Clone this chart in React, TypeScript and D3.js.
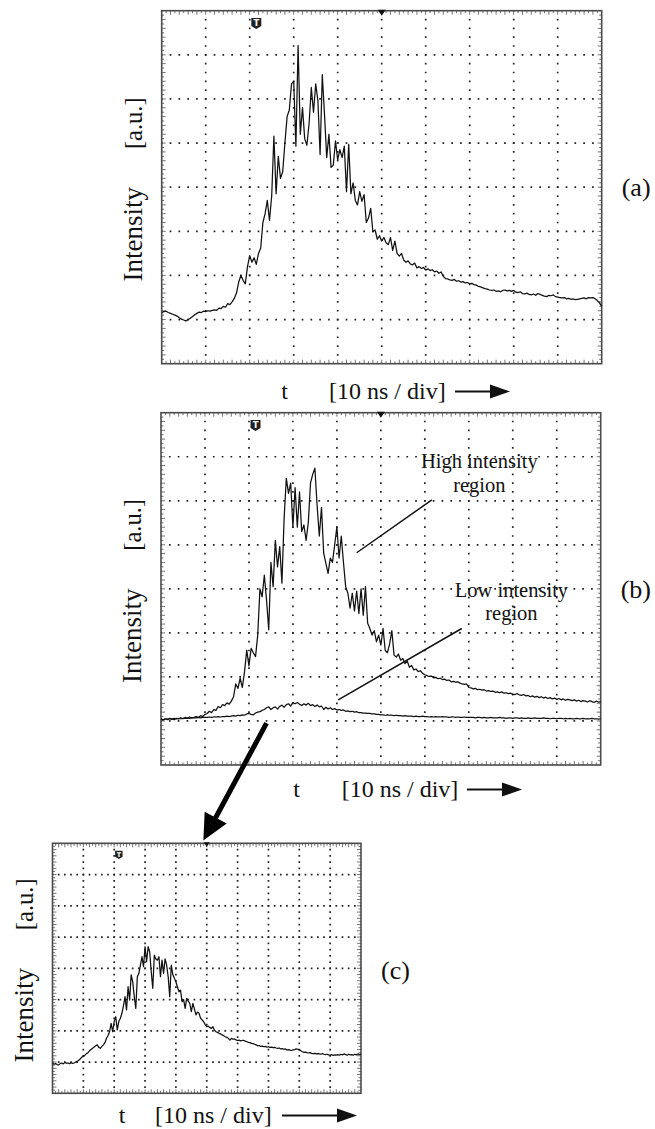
import React from 'react';
import * as d3 from 'd3';

// ---------------- data (divisions; x step = 0.05 div, y in div from bottom) ----------------
const STEP = 0.05;
const X_DIVS = 10;
const Y_DIVS = 8;

const traceA = [
  1.16,1.18,1.19,1.16,1.14,1.12,1.10,1.08,1.04,1.01,0.99,0.97,1.00,1.03,1.07,1.11,1.14,1.17,1.16,1.19,
  1.18,1.20,1.19,1.21,1.22,1.21,1.26,1.25,1.30,1.28,1.36,1.34,1.40,1.48,1.60,1.85,2.00,1.89,1.81,2.20,
  2.45,2.30,2.40,2.25,2.50,2.62,3.20,3.40,3.70,3.25,3.80,5.16,3.85,4.70,4.20,4.35,5.00,5.60,5.75,6.34,
  6.40,4.93,7.21,5.20,5.81,5.10,4.95,5.45,6.26,5.70,6.34,5.96,4.74,6.55,5.65,4.67,5.20,4.45,4.50,5.05,
  4.62,4.85,4.67,4.93,3.90,4.97,3.85,4.10,3.70,3.60,3.90,3.68,3.83,3.20,3.30,3.52,2.99,3.03,2.82,2.90,
  2.78,2.86,2.74,2.70,2.86,2.57,2.78,2.50,2.44,2.50,2.35,2.30,2.33,2.26,2.24,2.28,2.17,2.20,2.16,2.18,
  2.12,2.15,2.11,2.13,2.08,2.10,2.05,2.08,1.98,1.93,1.92,1.90,1.89,1.91,1.87,1.88,1.85,1.86,1.83,1.84,
  1.81,1.82,1.79,1.78,1.75,1.74,1.72,1.70,1.69,1.67,1.66,1.67,1.64,1.65,1.63,1.66,1.67,1.65,1.66,1.64,
  1.66,1.62,1.61,1.63,1.59,1.58,1.60,1.57,1.56,1.58,1.55,1.59,1.57,1.55,1.53,1.52,1.55,1.54,1.56,1.52,
  1.51,1.50,1.49,1.50,1.47,1.48,1.46,1.47,1.45,1.46,1.47,1.48,1.49,1.47,1.50,1.49,1.50,1.47,1.43,1.38,
  1.30,
];

const traceBHigh = [
  1.04,1.02,1.05,1.03,1.06,1.04,1.03,1.06,1.05,1.07,1.05,1.08,1.06,1.09,1.07,1.08,1.10,1.08,1.12,1.10,
  1.15,1.17,1.22,1.19,1.26,1.24,1.33,1.30,1.37,1.35,1.41,1.38,1.45,1.55,1.84,1.74,1.97,1.76,2.12,2.61,
  2.25,2.65,2.55,2.46,2.95,4.00,3.82,4.31,3.75,3.07,4.60,4.05,5.10,4.50,4.96,4.13,5.60,6.51,6.17,6.40,
  5.40,6.30,5.40,6.20,5.30,5.45,5.10,5.50,6.40,6.60,6.74,5.90,5.20,5.85,4.81,4.58,4.35,4.70,4.60,5.00,
  5.41,4.70,5.20,4.60,4.05,3.90,3.56,3.90,3.50,3.95,3.44,4.00,3.40,4.05,3.22,3.10,2.95,3.05,2.80,2.95,
  2.72,3.10,2.60,2.55,2.75,3.05,2.50,2.45,2.52,2.38,2.42,2.30,2.36,2.22,2.26,2.16,2.18,2.12,2.14,2.08,
  2.05,2.03,2.01,2.02,1.98,1.99,1.96,1.97,1.94,1.95,1.92,1.93,1.89,1.90,1.88,1.89,1.86,1.84,1.83,1.84,
  1.76,1.75,1.73,1.74,1.71,1.72,1.70,1.71,1.68,1.69,1.67,1.68,1.65,1.66,1.64,1.66,1.63,1.64,1.62,1.63,
  1.61,1.60,1.62,1.59,1.58,1.60,1.57,1.58,1.55,1.57,1.54,1.56,1.53,1.55,1.52,1.54,1.51,1.53,1.50,1.52,
  1.49,1.51,1.48,1.50,1.47,1.49,1.48,1.46,1.48,1.45,1.47,1.44,1.46,1.45,1.43,1.46,1.44,1.42,1.45,1.43,
  1.44,
];

const traceBLow = [
  1.04,1.03,1.05,1.04,1.05,1.04,1.06,1.05,1.06,1.05,1.06,1.06,1.07,1.06,1.07,1.07,1.07,1.08,1.07,1.08,
  1.08,1.08,1.09,1.08,1.09,1.09,1.10,1.09,1.10,1.10,1.11,1.10,1.11,1.12,1.11,1.13,1.12,1.14,1.13,1.16,
  1.17,1.15,1.14,1.18,1.20,1.21,1.24,1.26,1.30,1.32,1.26,1.30,1.32,1.27,1.33,1.36,1.31,1.37,1.39,1.34,
  1.42,1.39,1.42,1.38,1.35,1.39,1.36,1.40,1.35,1.37,1.33,1.36,1.32,1.34,1.26,1.31,1.27,1.30,1.26,1.28,
  1.25,1.26,1.24,1.25,1.22,1.23,1.21,1.22,1.20,1.21,1.19,1.19,1.18,1.18,1.17,1.17,1.16,1.16,1.15,1.15,
  1.14,1.14,1.13,1.14,1.13,1.13,1.12,1.13,1.12,1.12,1.11,1.12,1.11,1.11,1.11,1.10,1.11,1.10,1.10,1.11,
  1.10,1.10,1.09,1.10,1.09,1.10,1.09,1.09,1.10,1.09,1.09,1.08,1.09,1.09,1.08,1.09,1.08,1.08,1.09,1.08,
  1.08,1.08,1.08,1.07,1.08,1.08,1.07,1.08,1.07,1.07,1.08,1.07,1.07,1.07,1.08,1.07,1.07,1.06,1.07,1.07,
  1.06,1.07,1.07,1.06,1.07,1.06,1.06,1.07,1.06,1.06,1.07,1.06,1.06,1.06,1.07,1.06,1.06,1.05,1.06,1.06,
  1.05,1.06,1.06,1.05,1.06,1.05,1.06,1.05,1.05,1.06,1.05,1.05,1.06,1.05,1.05,1.05,1.06,1.05,1.05,1.04,
  1.05,
];

const traceC = [
  0.96,0.93,0.95,0.92,0.91,0.95,0.97,0.94,0.99,0.96,0.97,0.95,0.98,0.96,0.97,1.00,1.02,1.06,1.10,1.16,
  1.18,1.22,1.27,1.30,1.36,1.40,1.44,1.48,1.52,1.55,1.47,1.44,1.50,1.55,1.62,1.76,1.85,1.97,2.24,1.97,
  2.30,2.45,2.03,2.30,2.40,2.56,2.80,3.09,2.67,3.41,2.99,3.79,3.57,3.10,2.72,3.73,3.84,4.10,4.37,4.05,
  4.69,4.21,4.69,4.53,3.90,3.36,4.42,4.30,4.26,4.37,3.73,4.26,3.84,4.30,4.10,3.73,3.09,4.10,3.80,3.68,
  3.57,3.40,3.25,3.30,2.93,3.00,2.72,3.04,2.95,2.88,2.61,2.88,2.70,2.51,2.60,2.56,2.40,2.35,2.29,2.20,
  2.13,2.15,2.10,2.08,2.13,2.02,1.97,1.95,1.92,1.90,1.87,1.84,1.81,1.79,1.76,1.70,1.76,1.73,1.74,1.71,
  1.69,1.70,1.68,1.69,1.69,1.67,1.65,1.63,1.62,1.60,1.59,1.57,1.55,1.52,1.53,1.50,1.51,1.49,1.50,1.48,
  1.49,1.47,1.48,1.46,1.47,1.45,1.44,1.45,1.42,1.43,1.41,1.42,1.39,1.40,1.38,1.37,1.39,1.40,1.42,1.41,
  1.39,1.36,1.33,1.31,1.32,1.30,1.29,1.30,1.28,1.27,1.28,1.26,1.27,1.26,1.25,1.27,1.25,1.24,1.25,1.23,
  1.22,1.24,1.21,1.23,1.22,1.24,1.22,1.25,1.23,1.26,1.24,1.22,1.25,1.23,1.24,1.22,1.25,1.23,1.26,1.24,
  1.25,
];

const panelLabels = ['(a)', '(b)', '(c)'];
const xAxisVar = 't';
const xAxisUnit = '[10 ns / div]';
const yAxisName = 'Intensity';
const yAxisUnit = '[a.u.]';
const highNote = ['High intensity', 'region'];
const lowNote = ['Low intensity', 'region'];

// ---------------- layout ----------------
const W = 655;
const H = 1129;
const FONT = '"Liberation Serif", "Times New Roman", Times, serif';

type PanelSpec = {
  left: number; top: number; right: number; bottom: number;
  traces: number[][];
  label: string; labelBaseline: number;
  tCenter: number; unitStart: number; arrowStart: number; arrowEnd: number; xBaseline: number;
  markerSize: number;
};

const PANELS: PanelSpec[] = [
  { left: 161.7, top: 10.7, right: 601.7, bottom: 363.7, traces: [traceA], label: panelLabels[0], labelBaseline: 196,
    tCenter: 284.5, unitStart: 329, arrowStart: 455, arrowEnd: 510, xBaseline: 399, markerSize: 10 },
  { left: 161, top: 412.7, right: 600.7, bottom: 765, traces: [traceBHigh, traceBLow], label: panelLabels[1], labelBaseline: 598,
    tCenter: 296.5, unitStart: 341.7, arrowStart: 467, arrowEnd: 522, xBaseline: 797, markerSize: 10 },
  { left: 52.5, top: 843.3, right: 361, bottom: 1093.3, traces: [traceC], label: panelLabels[2], labelBaseline: 979,
    tCenter: 122, unitStart: 155, arrowStart: 282, arrowEnd: 357, xBaseline: 1123, markerSize: 7.5 },
];

function scalesFor(p: PanelSpec) {
  const x = d3.scaleLinear().domain([0, X_DIVS]).range([p.left, p.right]);
  const y = d3.scaleLinear().domain([0, Y_DIVS]).range([p.bottom, p.top]);
  return { x, y };
}

function Panel({ p }: { p: PanelSpec }) {
  const { x, y } = scalesFor(p);
  const line = d3.line<number>().x((_, i) => x(i * STEP)).y((d) => y(d));
  const dx = (p.right - p.left) / X_DIVS;
  const dy = (p.bottom - p.top) / Y_DIVS;
  const dot = 1.7;
  const vLines = d3.range(1, X_DIVS);
  const hLines = d3.range(1, Y_DIVS);
  const xTicks = d3.range(1, X_DIVS * 10).map((i) => i / 10);
  const yTicks = d3.range(1, Y_DIVS * 10).map((i) => i / 10);
  const tickCol = '#666';
  const cy = (p.top + p.bottom) / 2;
  const mx = x(2.15);
  const ms = p.markerSize;
  const mt = p.top + 7.4;
  const ay = p.xBaseline - 7.5;
  return (
    <g>
      {/* dotted grid */}
      {vLines.map((i) => (
        <line key={'v' + i} x1={x(i)} x2={x(i)} y1={p.top} y2={p.bottom} stroke="#222" strokeWidth={dot}
          strokeDasharray={`${dot} ${dy / 5 - dot}`} strokeDashoffset={dot / 2} />
      ))}
      {hLines.map((j) => (
        <line key={'h' + j} x1={p.left} x2={p.right} y1={y(j)} y2={y(j)} stroke="#222" strokeWidth={dot}
          strokeDasharray={`${dot} ${dx / 5 - dot}`} strokeDashoffset={dot / 2} />
      ))}
      {/* frame ticks */}
      {xTicks.map((t, i) => {
        const len = (i + 1) % 2 === 0 ? 4 : 2.5;
        return (
          <g key={'xt' + i}>
            <line x1={x(t)} x2={x(t)} y1={p.top} y2={p.top + len} stroke={tickCol} strokeWidth={0.9} />
            <line x1={x(t)} x2={x(t)} y1={p.bottom} y2={p.bottom - len} stroke={tickCol} strokeWidth={0.9} />
          </g>
        );
      })}
      {yTicks.map((t, i) => {
        const len = (i + 1) % 2 === 0 ? 4 : 2.5;
        return (
          <g key={'yt' + i}>
            <line x1={p.left} x2={p.left + len} y1={y(t)} y2={y(t)} stroke={tickCol} strokeWidth={0.9} />
            <line x1={p.right} x2={p.right - len} y1={y(t)} y2={y(t)} stroke={tickCol} strokeWidth={0.9} />
          </g>
        );
      })}
      <rect x={p.left} y={p.top} width={p.right - p.left} height={p.bottom - p.top} fill="none" stroke="#4a4a4a" strokeWidth={1.6} />
      {/* trigger markers */}
      <path d={`M${mx - ms / 2},${mt} h${ms} v${ms * 0.8} l${-ms / 2},${ms * 0.3} l${-ms / 2},${-ms * 0.3} Z`} fill="#222" />
      <text x={mx} y={mt + ms * 0.78} fontSize={ms * 0.85} fontFamily="DejaVu Sans, sans-serif" fontWeight="bold" fill="#fff" textAnchor="middle">T</text>
      <path d={`M${x(5) - ms * 0.4},${p.top - 1} L${x(5) + ms * 0.4},${p.top - 1} L${x(5)},${p.top + ms * 0.5} Z`} fill="#111" />
      {/* traces */}
      {p.traces.map((tr, k) => (
        <path key={'tr' + k} d={line(tr) || ''} fill="none" stroke="#111" strokeWidth={1.25} strokeLinejoin="round" />
      ))}
      {/* y label */}
      <g transform={`translate(${p.left - 20},${cy + 47}) rotate(-90)`}>
        <text textAnchor="middle" fontSize={27} fontFamily={FONT} fill="#111">{yAxisName}</text>
      </g>
      <g transform={`translate(${p.left - 20},${cy - 64}) rotate(-90)`}>
        <text textAnchor="middle" fontSize={24.5} fontFamily={FONT} fill="#111">{yAxisUnit}</text>
      </g>
      {/* x label */}
      <text x={p.tCenter} y={p.xBaseline} textAnchor="middle" fontSize={24} fontFamily={FONT} fill="#111">{xAxisVar}</text>
      <text x={p.unitStart} y={p.xBaseline} textAnchor="start" fontSize={24} fontFamily={FONT} fill="#111">{xAxisUnit}</text>
      <line x1={p.arrowStart} x2={p.arrowEnd - 18} y1={ay} y2={ay} stroke="#111" strokeWidth={2.2} />
      <path d={`M${p.arrowEnd - 20},${ay - 7} L${p.arrowEnd},${ay} L${p.arrowEnd - 20},${ay + 7} Z`} fill="#111" />
      {/* panel label */}
      <text x={p.right + 20} y={p.labelBaseline} fontSize={26} fontFamily={FONT} fill="#111">{p.label}</text>
    </g>
  );
}

export default function App() {
  const sb = scalesFor(PANELS[1]);
  const sc = scalesFor(PANELS[2]);
  // annotations for panel (b), in panel (b) division coordinates
  const hiA = [sb.x(6.16), sb.y(6.02)], hiB = [sb.x(4.45), sb.y(4.82)];
  const loA = [sb.x(6.84), sb.y(3.10)], loB = [sb.x(4.03), sb.y(1.48)];
  // big arrow from (b) to (c)
  const S = [sb.x(2.40), sb.y(0.95)];
  const T = [sc.x(4.89), sc.y(8.09)];
  const len = Math.hypot(T[0] - S[0], T[1] - S[1]);
  const u = [(T[0] - S[0]) / len, (T[1] - S[1]) / len];
  const n = [-u[1], u[0]];
  const headL = 26, headW = 12.5;
  const base = [T[0] - u[0] * headL, T[1] - u[1] * headL];
  const lineEnd = [T[0] - u[0] * (headL - 3), T[1] - u[1] * (headL - 3)];
  return (
    <svg width={W} height={H} viewBox={`0 0 ${W} ${H}`} style={{ position: 'absolute', left: 0, top: 0, display: 'block' }}>
      <rect x={0} y={0} width={W} height={H} fill="#fff" />
      {PANELS.map((p, i) => <Panel key={i} p={p} />)}
      <g fontFamily={FONT} fontSize={20.5} fill="#111" textAnchor="middle">
        <text x={sb.x(7.24)} y={468}>{highNote[0]}</text>
        <text x={sb.x(7.24)} y={491.5}>{highNote[1]}</text>
        <text x={sb.x(7.97)} y={597}>{lowNote[0]}</text>
        <text x={sb.x(7.97)} y={620}>{lowNote[1]}</text>
      </g>
      <line x1={hiA[0]} y1={hiA[1]} x2={hiB[0]} y2={hiB[1]} stroke="#111" strokeWidth={1.5} />
      <line x1={loA[0]} y1={loA[1]} x2={loB[0]} y2={loB[1]} stroke="#111" strokeWidth={1.5} />
      <line x1={S[0]} y1={S[1]} x2={lineEnd[0]} y2={lineEnd[1]} stroke="#000" strokeWidth={5} />
      <path d={`M${T[0]},${T[1]} L${base[0] + n[0] * headW},${base[1] + n[1] * headW} L${base[0] - n[0] * headW},${base[1] - n[1] * headW} Z`} fill="#000" />
    </svg>
  );
}
